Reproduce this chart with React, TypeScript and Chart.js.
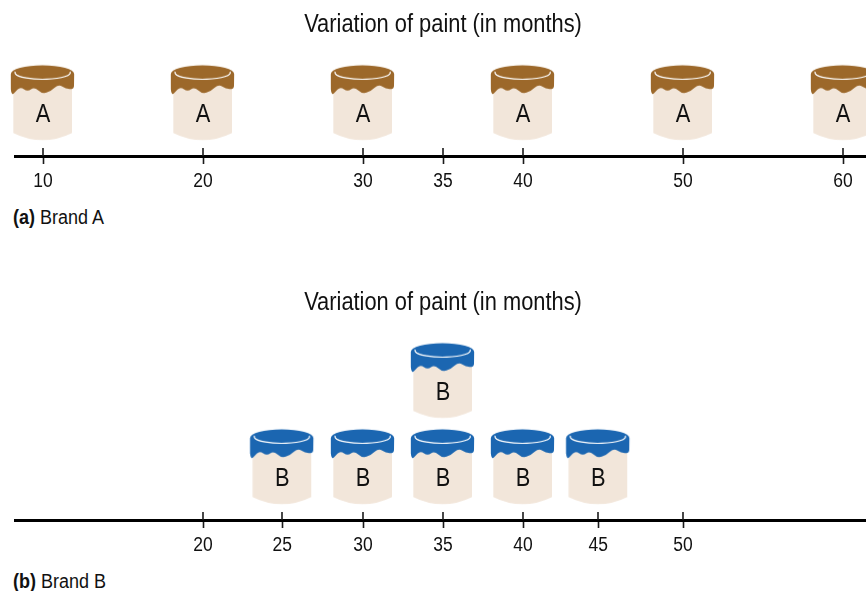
import React, { useEffect, useRef } from "react";
import { Chart, registerables } from "chart.js";

Chart.register(...registerables);

const FONT = '"Liberation Sans", Arial, sans-serif';
const TITLE = "Variation of paint (in months)";
const SQUEEZE = 0.874;

const brandAMonths = [10, 20, 30, 40, 50, 60];
const brandALevels = [1, 1, 1, 1, 1, 1];
const brandATicks = [10, 20, 30, 35, 40, 50, 60];
const brandATickLabels = ["10", "20", "30", "35", "40", "50", "60"];

const brandBMonths = [24.95, 30, 35, 35, 40, 44.7];
const brandBLevels = [1, 1, 1, 2, 1, 1];
const brandBTicks = [20, 24.95, 30, 35, 40, 44.7, 50];
const brandBTickLabels = ["20", "25", "30", "35", "40", "45", "50"];

const BROWN = "#9c682a";
const BLUE = "#1b66b1";
const CREAM = "#f2e6da";

function makeCan(paint: string): HTMLCanvasElement {
  const c = document.createElement("canvas");
  c.width = 66;
  c.height = 78;
  const g = c.getContext("2d")!;
  g.translate(33, 39);
  g.scale(1 / 3, 1 / 3);
  g.translate(-129, -142.5);
  // body
  g.fillStyle = CREAM;
  g.beginPath();
  g.moveTo(40, 70);
  g.lineTo(216, 70);
  g.lineTo(216, 233);
  g.quadraticCurveTo(128, 276, 40, 233);
  g.closePath();
  g.fill();
  // paint lid with a smooth wavy drip edge
  g.fillStyle = paint;
  g.beginPath();
  g.ellipse(127.5, 56, 95, 26, 0, Math.PI, 2 * Math.PI);
  g.lineTo(222, 92);
  g.quadraticCurveTo(221, 102, 212, 101);
  const wave: [number, number][] = [
    [198, 102],
    [176, 86],
    [153, 108],
    [126, 116],
    [103, 94],
    [83, 110],
    [61, 94],
    [44, 112],
  ];
  wave.forEach((pt, i) => {
    const next = wave[i + 1];
    if (next) {
      g.quadraticCurveTo(pt[0], pt[1], (pt[0] + next[0]) / 2, (pt[1] + next[1]) / 2);
    } else {
      g.lineTo(pt[0], pt[1]);
    }
  });
  g.quadraticCurveTo(35, 124, 32.5, 102);
  g.closePath();
  g.fill();
  // rim highlight
  g.strokeStyle = "#ffffff";
  g.lineWidth = 3.6;
  g.beginPath();
  g.ellipse(128, 52, 83, 20, 0, -0.15, Math.PI + 0.15);
  g.stroke();
  return c;
}

const canPlugin = {
  id: "canDetails",
  beforeDraw(chart: any) {
    // Liberation Sans Narrow is not installed: narrow the glyphs of every label instead.
    const ctx = chart.ctx;
    if (ctx.__narrow) return;
    const orig = ctx.fillText;
    ctx.__narrow = true;
    ctx.fillText = function (t: string, x: number, y: number) {
      ctx.save();
      ctx.translate(x, y);
      ctx.scale(SQUEEZE, 1);
      orig.call(ctx, t, 0, 0);
      ctx.restore();
    };
  },
  afterDraw(chart: any, _a: any, opts: any) {
    const { ctx } = chart;
    const x = chart.scales.x;
    const axisY = x.top;
    ctx.save();
    ctx.strokeStyle = "#1a1a1a";
    ctx.lineWidth = 1.6;
    x.ticks.forEach((t: any) => {
      const px = Math.round(x.getPixelForValue(t.value));
      ctx.beginPath();
      ctx.moveTo(px, axisY - 8);
      ctx.lineTo(px, axisY);
      ctx.stroke();
    });
    ctx.fillStyle = "#111";
    ctx.font = `25px ${FONT}`;
    ctx.textAlign = "center";
    ctx.textBaseline = "middle";
    const meta = chart.getDatasetMeta(0);
    meta.data.forEach((p: any) => ctx.fillText(opts.letter, p.x, p.y + 12.5));
    ctx.restore();
  },
};

function PaintChart(props: {
  months: number[];
  levels: number[];
  ticks: number[];
  tickLabels: string[];
  paint: string;
  letter: string;
  top: number;
  height: number;
  yMax: number;
}) {
  const ref = useRef<HTMLCanvasElement>(null);
  useEffect(() => {
    const can = makeCan(props.paint);
    const chart = new Chart(ref.current!, {
      type: "scatter",
      data: {
        datasets: [
          {
            data: props.months.map((m, i) => ({ x: m, y: props.levels[i] })),
            pointStyle: can as any,
            pointRadius: 30,
            showLine: false,
            clip: false as any,
          },
        ],
      },
      options: {
        animation: false,
        responsive: false,
        events: [],
        layout: { autoPadding: false, padding: { left: 15, right: 0, top: 0, bottom: 0 } },
        plugins: {
          legend: { display: false },
          tooltip: { enabled: false },
          title: {
            display: true,
            text: TITLE,
            color: "#111",
            font: { family: FONT, size: 25, weight: "normal" },
            padding: { top: 10, bottom: 6 },
          },
          canDetails: { letter: props.letter },
        } as any,
        scales: {
          x: {
            type: "linear",
            min: 8.25,
            max: 61.75,
            afterBuildTicks: (s: any) => {
              s.ticks = props.ticks.map((v) => ({ value: v }));
            },
            border: { display: true, color: "#000", width: 3 },
            grid: {
              drawOnChartArea: false,
              drawTicks: true,
              tickLength: 8,
              tickWidth: 1.6,
              tickColor: "#1a1a1a",
            },
            ticks: {
              autoSkip: false,
              maxRotation: 0,
              padding: 5,
              color: "#111",
              font: { family: FONT, size: 20 },
              callback: (v: number) => props.tickLabels[props.ticks.indexOf(v)],
            },
          },
          y: { display: false, min: 0.3837, max: props.yMax },
        },
      },
      plugins: [canPlugin],
    } as any);
    return () => chart.destroy();
  }, []);
  return (
    <canvas
      ref={ref}
      width={871}
      height={props.height}
      style={{ position: "absolute", left: 0, top: props.top, width: 871, height: props.height }}
    />
  );
}

function Caption(props: { tag: string; text: string; top: number }) {
  return (
    <div
      style={{
        position: "absolute",
        left: 13,
        top: props.top,
        fontFamily: FONT,
        fontSize: 20,
        lineHeight: "24px",
        color: "#111",
        whiteSpace: "nowrap",
        transform: "scaleX(0.9)",
        transformOrigin: "left center",
      }}
    >
      <b>{props.tag}</b> {props.text}
    </div>
  );
}

export default function App() {
  return (
    <div style={{ position: "fixed", left: 0, top: 0, width: 866, height: 591, overflow: "hidden", background: "#fff" }}>
      <PaintChart months={brandAMonths} levels={brandALevels} ticks={brandATicks} tickLabels={brandATickLabels} paint={BROWN} letter="A" top={0} height={198} yMax={1.657} />
      <PaintChart months={brandBMonths} levels={brandBLevels} ticks={brandBTicks} tickLabels={brandBTickLabels} paint={BLUE} letter="B" top={278} height={284} yMax={2.657} />
      <Caption tag="(a)" text="Brand A" top={205} />
      <Caption tag="(b)" text="Brand B" top={569} />
    </div>
  );
}
